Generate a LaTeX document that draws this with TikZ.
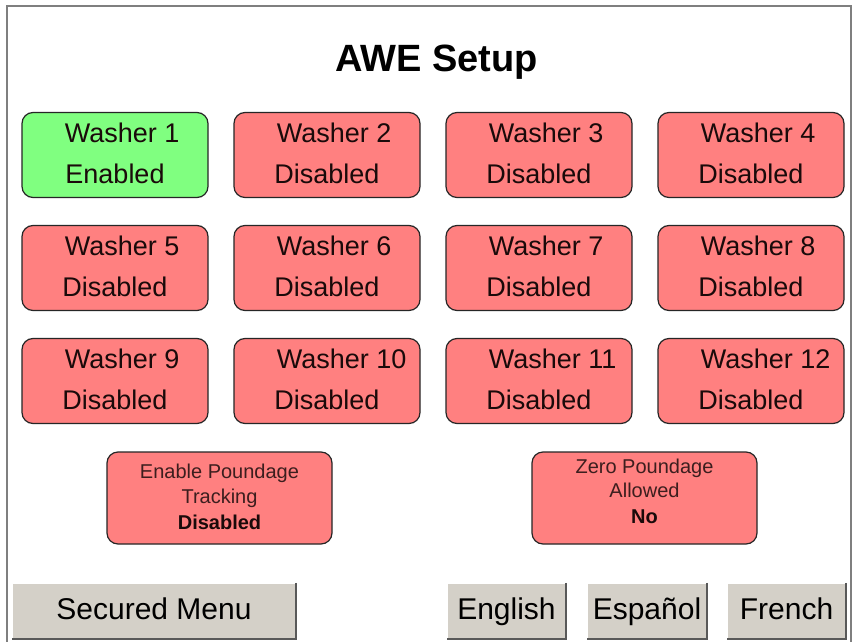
\documentclass[tikz,border=0pt]{standalone}
\usepackage{fontspec}
\setmainfont{Liberation Sans}
\usetikzlibrary{positioning}

\definecolor{onGreen}{HTML}{80FF80}
\definecolor{offRed}{HTML}{FF8080}
\definecolor{btnGray}{HTML}{D4D0C8}
\definecolor{frameGray}{HTML}{7F7F7F}
\definecolor{darkText}{HTML}{1A0A0A}
\definecolor{panelText}{HTML}{3C1E1E}

\tikzset{
    washer/.style={draw=black!85, line width=1.2pt, rounded corners=11pt,
        minimum width=186pt, minimum height=85pt, inner sep=0pt},
    panel/.style={washer, fill=offRed, minimum width=225pt, minimum height=92pt},
    btn/.style={fill=btnGray, minimum height=56pt, inner sep=0pt,
        text height=22pt, text depth=6pt,
        font=\fontsize{30}{32}\selectfont},
    bigtext/.style={font=\fontsize{27}{30}\selectfont, text=darkText},
    smalltext/.style={font=\fontsize{20}{24}\selectfont, text=panelText},
    boldtext/.style={font=\bfseries\fontsize{20}{24}\selectfont, text=darkText},
}

\begin{document}
\begin{tikzpicture}[x=1pt, y=-1pt]
    \useasboundingbox (0,0) rectangle (854,642);
    \fill[white] (0,0) rectangle (854,642);
    \draw[frameGray, line width=2pt] (6.5,642) -- (6.5,6.5) -- (851,6.5) -- (851,642);

    \node[anchor=base, font=\bfseries\fontsize{38}{40}\selectfont] (title) at (436.5,72) {AWE Setup};

    % washer buttons, 4 per row
    \foreach \n in {1,...,12} {
        \pgfmathsetmacro\cx{115+212*mod(\n-1,4)}
        \pgfmathsetmacro\cy{155+113*int((\n-1)/4)}
        \ifnum\n=1 \def\fc{onGreen}\def\st{Enabled}\else \def\fc{offRed}\def\st{Disabled}\fi
        \node[washer, fill=\fc] (w\n) at (\cx,\cy) {};
        \node[bigtext, anchor=base west] (wname\n) at ([xshift=40pt, yshift=13pt]w\n.west) {Washer \n};
        \node[bigtext, anchor=base] (wstate\n) at ([yshift=-28pt]w\n.center) {\st};
    }

    \node[panel] (track) at (219.5,498) {};
    \node[smalltext, anchor=base] (trackA) at ([yshift=20pt]track.center) {Enable Poundage};
    \node[smalltext, anchor=base] (trackB) at ([yshift=-5pt]track.center) {Tracking};
    \node[boldtext, anchor=base] (trackC) at ([yshift=-31pt]track.center) {Disabled};

    \node[panel] (zero) at (644.5,498) {};
    \node[smalltext, anchor=base] (zeroA) at ([yshift=25pt]zero.center) {Zero Poundage};
    \node[smalltext, anchor=base] (zeroB) at ([yshift=1pt]zero.center) {Allowed};
    \node[boldtext, anchor=base] (zeroC) at ([yshift=-25pt]zero.center) {No};

    \node[btn, minimum width=284pt] (secured) at (154,611) {Secured Menu};
    \node[btn, minimum width=119pt] (english) at (506.5,611) {English};
    \node[btn, minimum width=120pt] (espanol) at (647,611) {Español};
    \node[btn, minimum width=119pt] (french) at (786.5,611) {French};
    \foreach \b in {secured,english,espanol,french} {
        \draw[white, line width=1.5pt] (\b.south west) -- (\b.north west) -- (\b.north east);
        \draw[black!65, line width=1.5pt] (\b.north east) -- (\b.south east) -- (\b.south west);
    }
\end{tikzpicture}
\end{document}
